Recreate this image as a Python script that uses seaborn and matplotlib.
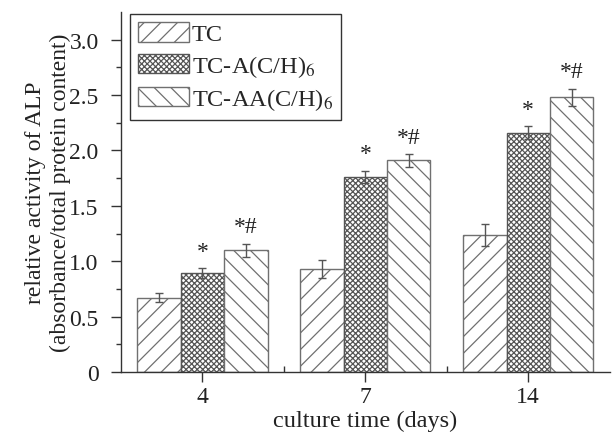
import numpy as np
import pandas as pd
import matplotlib
matplotlib.use("Agg")
import matplotlib.pyplot as plt
import seaborn as sns

sns.set_theme(style="white")
plt.rcParams['font.family'] = ['Liberation Serif', 'DejaVu Serif']
plt.rcParams['mathtext.fontset'] = 'stix'
plt.rcParams['hatch.linewidth'] = 0.9

# Data
DAYS = ['4', '7', '14']
GROUPS = ['TC', 'TC-A(C/H)$_6$', 'TC-AA(C/H)$_6$']
TC = [0.67, 0.93, 1.24]
TC_A = [0.89, 1.76, 2.16]
TC_AA = [1.10, 1.91, 2.48]
ERR_TC = [0.04, 0.08, 0.10]
ERR_TC_A = [0.045, 0.055, 0.057]
ERR_TC_AA = [0.06, 0.057, 0.075]
MARKS = [['', '', ''], ['*', '*', '*'], ['*#', '*#', '*#']]
HATCHES = ['//', 'xxxxxx', '\\\\']
YTICKS = [0, 0.5, 1.0, 1.5, 2.0, 2.5, 3.0]
YTICKLABELS = ['0', '0.5', '1.0', '1.5', '2.0', '2.5', '3.0']

values = [TC, TC_A, TC_AA]
errors = [ERR_TC, ERR_TC_A, ERR_TC_AA]
df = pd.DataFrame({
    'day': DAYS * 3,
    'group': [g for g in GROUPS for _ in DAYS],
    'value': TC + TC_A + TC_AA,
})

edge = '#707070'
fig = plt.figure(figsize=(6.14, 4.35), dpi=100)
ax = fig.add_axes([0.197, 0.1425, 0.796, 0.8275])

sns.barplot(data=df, x='day', y='value', hue='group', order=DAYS, hue_order=GROUPS,
            palette=['white'] * 3, edgecolor=edge, linewidth=1.0, errorbar=None,
            width=0.8, ax=ax, legend=False)

bar_containers = list(ax.containers)
for i, cont in enumerate(bar_containers):
    for j, bar in enumerate(cont):
        bar.set_hatch(HATCHES[i])
        bar.set_edgecolor('#555555' if i == 1 else edge)
        cx = bar.get_x() + bar.get_width() / 2
        h = bar.get_height()
        ax.errorbar(cx, h, yerr=errors[i][j], color='#555555', capsize=3,
                    elinewidth=1, capthick=1, zorder=5)
        if MARKS[i][j]:
            ax.text(cx, h + errors[i][j] + 0.06, MARKS[i][j], ha='center', va='bottom',
                    fontsize=17, color='#222222')

leg = ax.legend(handles=[c[0] for c in bar_containers], labels=GROUPS,
                loc='upper left', bbox_to_anchor=(0.018, 0.995), fontsize=17.5,
                frameon=True, fancybox=False, edgecolor='black', handlelength=2.1,
                handleheight=0.85, handletextpad=0.1, labelspacing=0.3,
                borderpad=0.35, borderaxespad=0.0)
leg.get_frame().set_linewidth(1.0)

ax.set_xlim(-0.5, 2.5)
ax.set_ylim(0, 3.25)
ax.set_yticks(YTICKS)
ax.set_yticklabels(YTICKLABELS)
ax.set_yticks(np.arange(0.25, 3.25, 0.5), minor=True)
ax.set_xticks([0.5, 1.5], minor=True)
ax.tick_params(axis='both', which='major', direction='out', length=7, width=1,
               color='#333333', labelsize=17, labelcolor='#222222',
               left=True, bottom=True)
ax.tick_params(axis='y', which='major', pad=9)
ax.tick_params(axis='x', which='major', pad=3)
ax.tick_params(axis='y', which='minor', direction='out', length=3.5, width=1,
               color='#333333', left=True)
ax.tick_params(axis='x', which='minor', direction='in', length=4, width=1,
               color='#333333', bottom=True)

sns.despine(ax=ax)
for s in ['left', 'bottom']:
    ax.spines[s].set_color('#333333')
    ax.spines[s].set_linewidth(1.0)

ax.set_xlabel('culture time (days)', fontsize=17.5, color='#222222', labelpad=2)
ax.set_ylabel('relative activity of ALP\n(absorbance/total protein content)',
              fontsize=17, color='#222222', linespacing=1.25, labelpad=-1)

fig.savefig('out.png', dpi=100)
